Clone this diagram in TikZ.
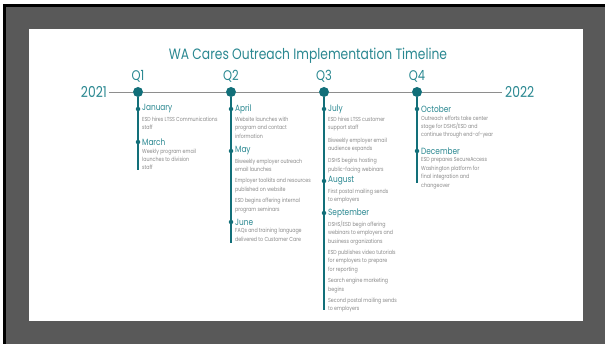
\documentclass[tikz,border=0pt]{standalone}
\usepackage{fontspec}
\setmainfont{Poppins}[FakeStretch=0.82]
\usetikzlibrary{positioning}
\definecolor{wateal}{HTML}{2A8891}
\definecolor{wadark}{HTML}{126F79}
\definecolor{itemgray}{HTML}{8A8A8A}
\definecolor{railgray}{HTML}{8E8E8E}
\definecolor{framegray}{HTML}{595959}

\begin{document}
\begin{tikzpicture}[x=1pt,y=-1pt,
	qdot/.style={circle,fill=wadark,inner sep=0pt,minimum size=10pt},
	mdot/.style={circle,fill=wadark,inner sep=0pt,minimum size=4.5pt},
	qlabel/.style={text=wateal,font=\fontsize{14}{14}\selectfont,inner sep=0pt},
	year/.style={text=wateal,font=\fontsize{15}{15}\selectfont,inner sep=0pt},
	month/.style={text=wateal,font=\fontsize{9}{9}\selectfont,inner sep=0pt},
	item/.style={text=itemgray,font=\fontsize{5.8}{8.4}\selectfont,inner sep=0pt,align=left},
	stem/.style={wadark,line width=2pt},
	rail/.style={railgray,line width=0.9pt}]
	% frame and white sheet
	\useasboundingbox (0,0) rectangle (605,344);
	\fill[white] (0,0) rectangle (605,344);
	\fill[black] (3,4) rectangle (605,344);
	\fill[framegray] (6,7) rectangle (605,344);
	\fill[white] (29,29) rectangle (583,321);

	\node[text=wateal,font=\fontsize{15}{15}\selectfont,anchor=base] (title) at (308,60) {WA Cares Outreach Implementation Timeline};

	% quarters on the rail
	\node[qdot] (q1) at (138,92) {};
	\node[qdot] (q2) at (231,92) {};
	\node[qdot] (q3) at (324,92) {};
	\node[qdot] (q4) at (417,92) {};
	\foreach \q in {1,...,4}
		\node[qlabel,above=4pt of q\q] {Q\q};
	\node[year,anchor=east] (y2021) at (107,92) {2021};
	\node[year,anchor=west] (y2022) at (505,92) {2022};
	\draw[rail] (y2021.east) ++(2pt,0) -- (q1) -- (q2) -- (q3) -- (q4) -- ([xshift=-3pt]y2022.west);

	% stems
	\coordinate (q1end) at (138,170);
	\coordinate (q2end) at (231,243);
	\coordinate (q3end) at (324,310);
	\coordinate (q4end) at (417,183);
	\foreach \q in {1,...,4}
		\draw[stem] (q\q) -- (q\q end);

	% Q1
	\node[mdot] (jan) at (138,109) {};
	\node[month,right=1.5pt of jan] (janlab) {January};
	\node[item,below right=3pt and 0pt of janlab.south west] {ESD hires LTSS Communications\\staff};
	\node[mdot] (mar) at (138,142) {};
	\node[month,right=1.5pt of mar] (marlab) {March};
	\node[item,below right=3pt and 0pt of marlab.south west] {Weekly program email\\launches to division\\staff};

	% Q2
	\node[mdot] (apr) at (231,109) {};
	\node[month,right=1.5pt of apr] (aprlab) {April};
	\node[item,below right=3pt and 0pt of aprlab.south west] {Website launches with\\program and contact\\information};
	\node[mdot] (may) at (231,151) {};
	\node[month,right=1.5pt of may] (maylab) {May};
	\node[item,below right=3pt and 0pt of maylab.south west] {Biweekly employer outreach\\email launches\\[3pt]
		Employer toolkits and resources\\published on website\\[3pt]
		ESD begins offering internal\\program seminars};
	\node[mdot] (jun) at (231,222) {};
	\node[month,right=1.5pt of jun] (junlab) {June};
	\node[item,below right=3pt and 0pt of junlab.south west] {FAQs and training language\\delivered to Customer Care};

	% Q3
	\node[mdot] (jul) at (324,109) {};
	\node[month,right=1.5pt of jul] (jullab) {July};
	\node[item,below right=3pt and 0pt of jullab.south west] {ESD hires LTSS customer\\support staff\\[4pt]
		Biweekly employer email\\audience expands\\[4pt]
		DSHS begins hosting\\public-facing webinars};
	\node[mdot] (aug) at (324,181) {};
	\node[month,right=1.5pt of aug] (auglab) {August};
	\node[item,below right=3pt and 0pt of auglab.south west] {First postal mailing sends\\to employers};
	\node[mdot] (sep) at (324,213) {};
	\node[month,right=1.5pt of sep] (seplab) {September};
	\node[item,below right=3pt and 0pt of seplab.south west] {DSHS/ESD begin offering\\webinars to employers and\\business organizations\\[3pt]
		ESD publishes video tutorials\\for employers to prepare\\for reporting\\[3pt]
		Search engine marketing\\begins\\[3pt]
		Second postal mailing sends\\to employers};

	% Q4
	\node[mdot] (oct) at (417,109) {};
	\node[month,right=1.5pt of oct] (octlab) {October};
	\node[item,below right=3pt and 0pt of octlab.south west] {Outreach efforts take center\\stage for DSHS/ESD and\\continue through end-of-year};
	\node[mdot] (dec) at (417,151) {};
	\node[month,right=1.5pt of dec] (declab) {December};
	\node[item,below right=3pt and 0pt of declab.south west] {ESD prepares SecureAccess\\Washington platform for\\final integration and\\changeover};
\end{tikzpicture}
\end{document}
